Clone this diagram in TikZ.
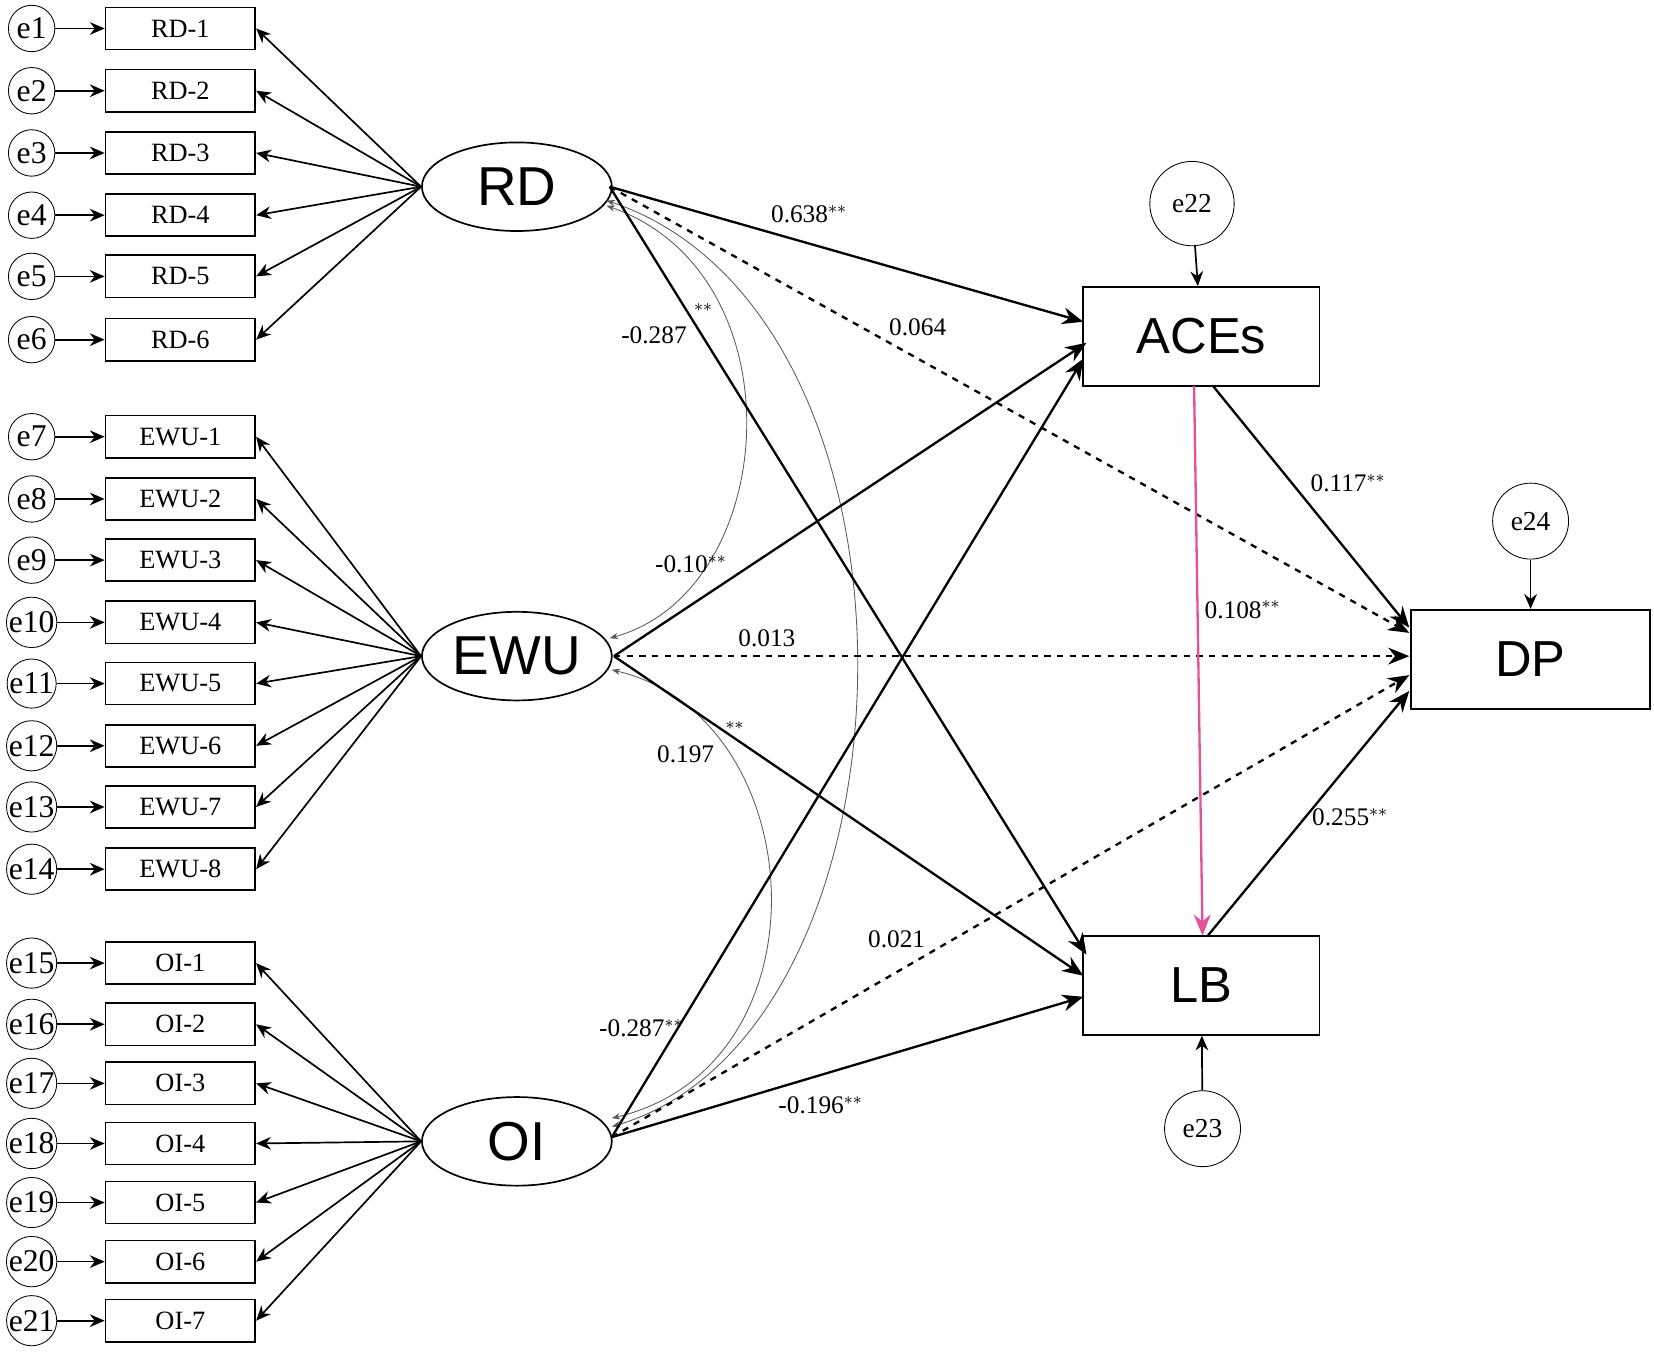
\documentclass[tikz,border=0pt]{standalone}
\usepackage{fontspec}
\setmainfont{Liberation Serif}
\newfontfamily\sansf{Liberation Sans}
\usetikzlibrary{arrows.meta,shapes.geometric}
\definecolor{pinkc}{RGB}{230,80,150}
\begin{document}
\begin{tikzpicture}[x=0.5pt,y=-0.5pt,
  err/.style={circle,draw,thin,minimum size=22pt,inner sep=0,font=\fontsize{15}{15}\selectfont},
  bigerr/.style={circle,draw,thin,minimum size=36pt,inner sep=0,font=\fontsize{13}{13}\selectfont},
  ind/.style={draw,thick,minimum width=71pt,minimum height=20pt,inner sep=0,font=\fontsize{12.5}{12.5}\selectfont},
  lat/.style={ellipse,draw,thick,minimum width=90pt,minimum height=42pt,inner sep=0,font=\sansf\fontsize{26}{26}\selectfont},
  obs/.style={draw,thick,minimum width=112pt,minimum height=47pt,inner sep=0,font=\sansf\fontsize{24}{24}\selectfont},
  sarr/.style={-{Stealth[length=7,width=6]},thick},
  parr/.style={-{Stealth[length=10,width=8]},line width=1.1pt},
  lbl/.style={font=\fontsize{12}{12}\selectfont,inner sep=1},
  cov/.style={{Stealth[length=4,width=3]}-{Stealth[length=4,width=3]},gray!70!black,thin}]
\useasboundingbox (0,0) rectangle (1568,1281);
% latent
\node[lat] (RD) at (490,177) {RD};
\node[lat] (EWU) at (490,622) {EWU};
\node[lat] (OI) at (490,1082) {OI};
\foreach \i/\y in {1/27,2/86,3/145,4/204,5/262,6/322}{
  \node[err] (e\i) at (30,\y) {e\i};
  \node[ind] (rd\i) at (171,\y) {RD-\i};
  \draw[sarr] (e\i) -- (rd\i);
  \draw[sarr] (RD.west) -- (rd\i.east);}
\foreach \i/\y [evaluate=\i as \k using int(\i+6)] in {1/414,2/473,3/531,4/590,5/648,6/707,7/765,8/824}{
  \node[err] (e\k) at (30,\y) {e\k};
  \node[ind] (ewu\i) at (171,\y) {EWU-\i};
  \draw[sarr] (e\k) -- (ewu\i);
  \draw[sarr] (EWU.west) -- (ewu\i.east);}
\foreach \i/\y [evaluate=\i as \k using int(\i+14)] in {1/913,2/971,3/1027,4/1084,5/1140,6/1196,7/1252}{
  \node[err] (e\k) at (30,\y) {e\k};
  \node[ind] (oi\i) at (171,\y) {OI-\i};
  \draw[sarr] (e\k) -- (oi\i);
  \draw[sarr] (OI.west) -- (oi\i.east);}
% observed
\node[obs] (ACE) at (1139,319) {ACEs};
\node[obs,minimum width=113.5pt] (DP) at (1451,625) {DP};
\node[obs] (LB) at (1139,934) {LB};
\node[bigerr,minimum size=40pt] (e22) at (1130,193) {e22};
\node[bigerr] (e24) at (1451,494) {e24};
\node[bigerr] (e23) at (1140,1070) {e23};
\draw[sarr] (e22) -- (ACE);
\draw[sarr] (e24) -- (DP);
\draw[sarr] (e23) -- (LB);
% covariances
\draw[cov] (575,195) .. controls (760,260) and (740,560) .. (578,605);
\draw[cov] (575,190) .. controls (900,300) and (880,980) .. (580,1068);
\draw[cov] (580,635) .. controls (770,680) and (790,1010) .. (580,1060);
% paths
\coordinate (rdo) at (578,177);
\coordinate (ewo) at (582,622);
\coordinate (oio) at (580,1078);
\draw[parr] (rdo) -- (1027,305);
\draw[parr,dashed] (rdo) -- (1336,600);
\draw[parr] (rdo) -- (1030,905);
\draw[parr] (ewo) -- (1030,325);
\draw[parr,dashed] (ewo) -- (1336,622);
\draw[parr] (ewo) -- (1027,925);
\draw[parr] (oio) -- (1027,340);
\draw[parr,dashed] (oio) -- (1336,640);
\draw[parr] (oio) -- (1027,945);
\draw[parr] (1150,366) -- (1336,595);
\draw[draw=pinkc,-{Stealth[length=10,width=8]},line width=1.1pt] (1132,366) -- (1140,887);
\draw[parr] (1145,887) -- (1336,655);
% labels
\node[lbl] at (767,203) {0.638$^{**}$};
\node[lbl] at (870,310) {0.064};
\node[lbl] at (620,318) {-0.287};
\node[lbl] at (667,296) {$^{**}$};
\node[lbl] at (655,535) {-0.10$^{**}$};
\node[lbl] at (727,605) {0.013};
\node[lbl] at (650,715) {0.197};
\node[lbl] at (697,692) {$^{**}$};
\node[lbl] at (850,890) {0.021};
\node[lbl] at (608,975) {-0.287$^{**}$};
\node[lbl] at (778,1048) {-0.196$^{**}$};
\node[lbl] at (1278,458) {0.117$^{**}$};
\node[lbl] at (1178,578) {0.108$^{**}$};
\node[lbl] at (1280,775) {0.255$^{**}$};
\end{tikzpicture}
\end{document}
